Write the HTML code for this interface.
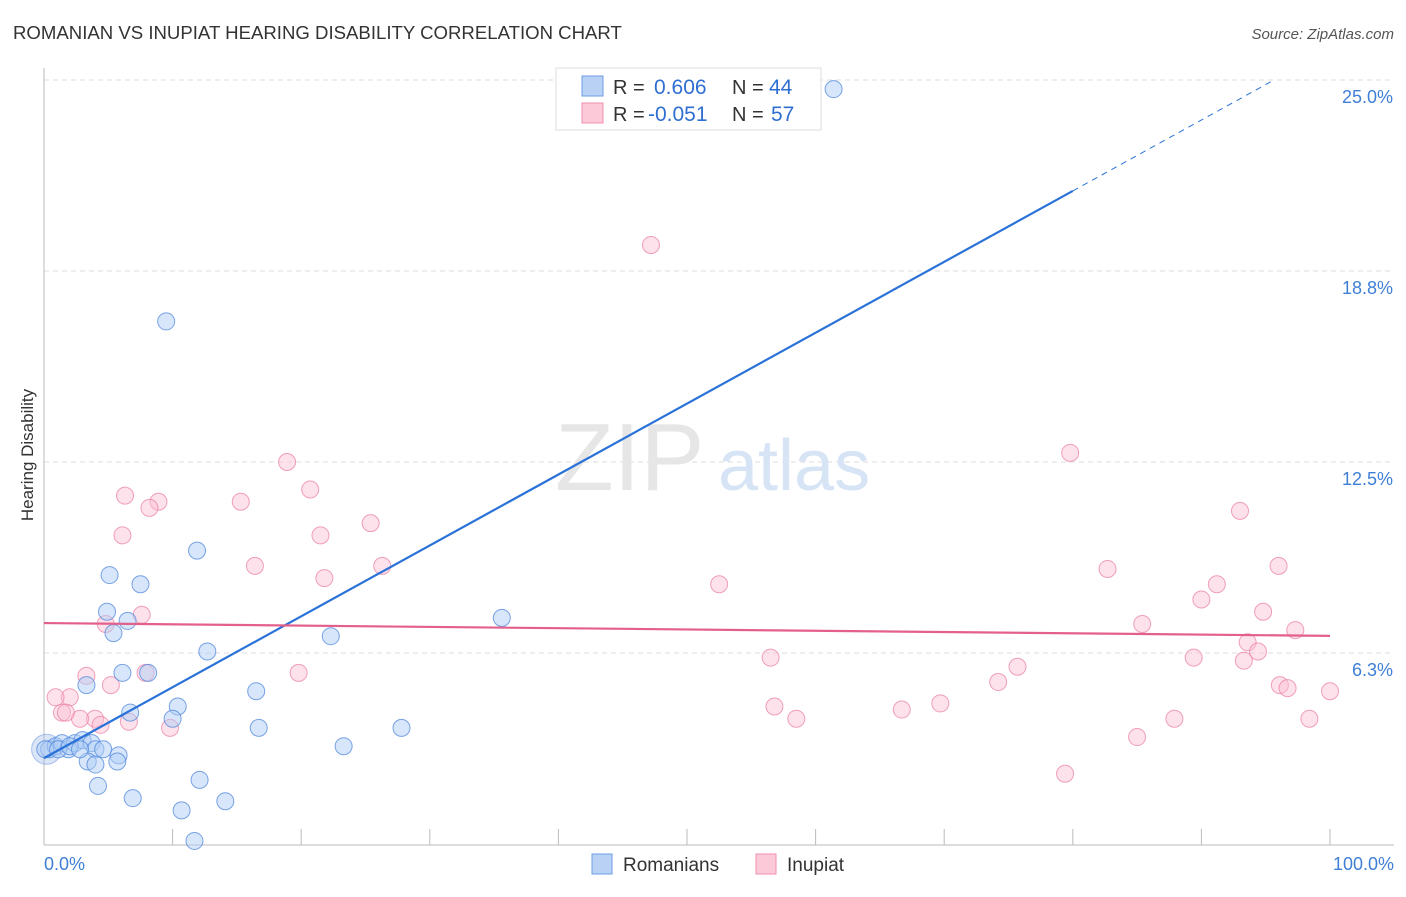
<!DOCTYPE html>
<html><head><meta charset="utf-8"><style>
body{margin:0;background:#fff;font-family:"Liberation Sans",sans-serif;}
svg text{font-family:"Liberation Sans",sans-serif;}
</style></head><body>
<svg id="chart" width="1406" height="892" xmlns="http://www.w3.org/2000/svg">
<text x="13" y="39" font-size="18.6" fill="#333">ROMANIAN VS INUPIAT HEARING DISABILITY CORRELATION CHART</text>
<text x="1394" y="39" font-size="15" fill="#555" font-style="italic" text-anchor="end">Source: ZipAtlas.com</text>
<text transform="translate(33,455) rotate(-90)" font-size="17" fill="#333" text-anchor="middle">Hearing Disability</text>
<g id="grid"></g>
<g><text x="555" y="490" font-size="96" fill="#e6e6e6" font-family="Liberation Serif">ZIP</text><text x="718" y="490" font-size="72" fill="#d6e4f5">atlas</text></g>
<g id="marks"></g>
<g>
<rect x="556" y="68" width="265" height="62" fill="#fff" stroke="#ddd"/>
<rect x="582" y="76" width="21" height="20" fill="#b9d1f5" stroke="#6d9de3"/>
<rect x="582" y="103" width="21" height="20" fill="#fcc9d8" stroke="#ef8fad"/>
<text x="613" y="94" font-size="20" fill="#333">R =</text><text x="654" y="94" font-size="21" fill="#2f6fd1">0.606</text>
<text x="732" y="94" font-size="20" fill="#333">N =</text><text x="769" y="94" font-size="21" fill="#2f6fd1">44</text>
<text x="613" y="121" font-size="20" fill="#333">R =</text><text x="648" y="121" font-size="21" fill="#2f6fd1">-0.051</text>
<text x="732" y="121" font-size="20" fill="#333">N =</text><text x="771" y="121" font-size="21" fill="#2f6fd1">57</text>
</g>
<g>
<rect x="592" y="854" width="20" height="20" fill="#b9d1f5" stroke="#6d9de3"/>
<text x="623" y="871" font-size="19" fill="#333">Romanians</text>
<rect x="756" y="854" width="20" height="20" fill="#fcc9d8" stroke="#ef8fad"/>
<text x="787" y="871" font-size="19" fill="#333">Inupiat</text>
</g>
<text x="44" y="870" font-size="18" fill="#3f7fd6">0.0%</text>
<text x="1394" y="870" font-size="18" fill="#3f7fd6" text-anchor="end">100.0%</text>
</svg>
<script>
const yTicks=[6.25,12.5,18.75,25];
const yTickLabels=["6.3%","12.5%","18.8%","25.0%"];
const romX=[61.4,9.5,11.9,5.1,7.5,4.9,6.5,5.4,22.3,35.6,12.7,6.1,8.1,3.3,16.5,10.4,6.7,10.0,16.7,27.8,23.3,0.4,0.9,1.4,1.9,2.4,3.0,3.7,4.0,4.6,5.8,3.4,4.0,5.7,4.2,6.9,12.1,14.1,10.7,11.7,0.1,1.1,2.0,2.8];
const romY=[24.7,17.1,9.6,8.8,8.5,7.6,7.3,6.9,6.8,7.4,6.3,5.6,5.6,5.2,5.0,4.5,4.3,4.1,3.8,3.8,3.2,3.1,3.2,3.3,3.1,3.3,3.4,3.3,3.1,3.1,2.9,2.7,2.6,2.7,1.9,1.5,2.1,1.4,1.1,0.1,3.1,3.1,3.2,3.1];
const inuX=[47.2,2.0,0.9,1.4,3.3,5.2,3.97,2.8,4.8,7.6,7.9,4.4,6.6,9.8,6.3,8.9,8.2,6.1,15.3,18.9,20.7,16.4,21.5,21.8,25.4,26.3,19.8,52.5,56.5,56.8,58.5,66.7,69.7,74.2,75.7,79.4,79.8,82.7,85.0,85.4,87.9,89.4,90.0,91.2,93.0,93.6,94.4,93.3,94.8,96.0,96.1,96.7,97.3,98.4,100.0,1.7];
const inuY=[19.6,4.8,4.8,4.3,5.5,5.2,4.1,4.1,7.2,7.5,5.6,3.9,4.0,3.8,11.4,11.2,11.0,10.1,11.2,12.5,11.6,9.1,10.1,8.7,10.5,9.1,5.6,8.5,6.1,4.5,4.1,4.4,4.6,5.3,5.8,2.3,12.8,9.0,3.5,7.2,4.1,6.1,8.0,8.5,10.9,6.6,6.3,6.0,7.6,9.1,5.2,5.1,7.0,4.1,5.0,4.3];
const romTrend=[2.81,21.37];const inuTrend=[7.23,6.81];
const X=v=>44+v*12.86, Y=v=>844-v*30.56;
const NS="http://www.w3.org/2000/svg";
function mk(t,a,p){const e=document.createElementNS(NS,t);for(const k in a)e.setAttribute(k,a[k]);p.appendChild(e);return e;}
const grid=document.getElementById('grid'),marks=document.getElementById('marks');
yTicks.forEach((t,i)=>{
 const l=mk('line',{x1:44,x2:1394,y1:Y(t),y2:Y(t),stroke:'#ddd','stroke-dasharray':'5,4'},grid);
 
 
 const tx=mk('text',{x:1393,y:Y(t)+23,'font-size':18,fill:'#3f7fd6','text-anchor':'end'},grid);
 tx.textContent=yTickLabels[i];
 
 
});
const ax=mk('line',{x1:44,x2:1394,y1:845,y2:845,stroke:'#bbb'},grid);


const ay=mk('line',{x1:44,x2:44,y1:68,y2:845,stroke:'#bbb'},grid);


for(let i=1;i<=10;i++){const t=mk('line',{x1:X(i*10),x2:X(i*10),y1:829,y2:845,stroke:'#bbb'},grid);
 
 }
const big=mk('circle',{cx:X(0.2),cy:Y(3.1),r:15,fill:'rgba(150,180,235,0.35)',stroke:'rgba(100,145,225,0.5)'},marks);


inuX.forEach((x,i)=>{const c=mk('circle',{cx:X(x),cy:Y(inuY[i]),r:8.5,fill:'rgba(250,190,210,0.45)',stroke:'rgba(235,130,165,0.75)'},marks);
 
 });
romX.forEach((x,i)=>{const c=mk('circle',{cx:X(x),cy:Y(romY[i]),r:8.5,fill:'rgba(175,205,245,0.5)',stroke:'rgba(80,135,220,0.75)'},marks);
 
 });
const slope=(romTrend[1]-romTrend[0])/80;
const rl=mk('line',{x1:X(0),y1:Y(romTrend[0]),x2:X(80),y2:Y(romTrend[1]),stroke:'#2a72d8','stroke-width':2.2},marks);


const xe=(25.0-romTrend[0])/slope;
const rd=mk('line',{x1:X(80),y1:Y(romTrend[1]),x2:X(xe),y2:Y(romTrend[0]+slope*xe),stroke:'#2a72d8','stroke-width':1,'stroke-dasharray':'6,5'},marks);


const il=mk('line',{x1:X(0),y1:Y(inuTrend[0]),x2:X(100),y2:Y(inuTrend[1]),stroke:'#e4608c','stroke-width':2.2},marks);


</script>
</body></html>
